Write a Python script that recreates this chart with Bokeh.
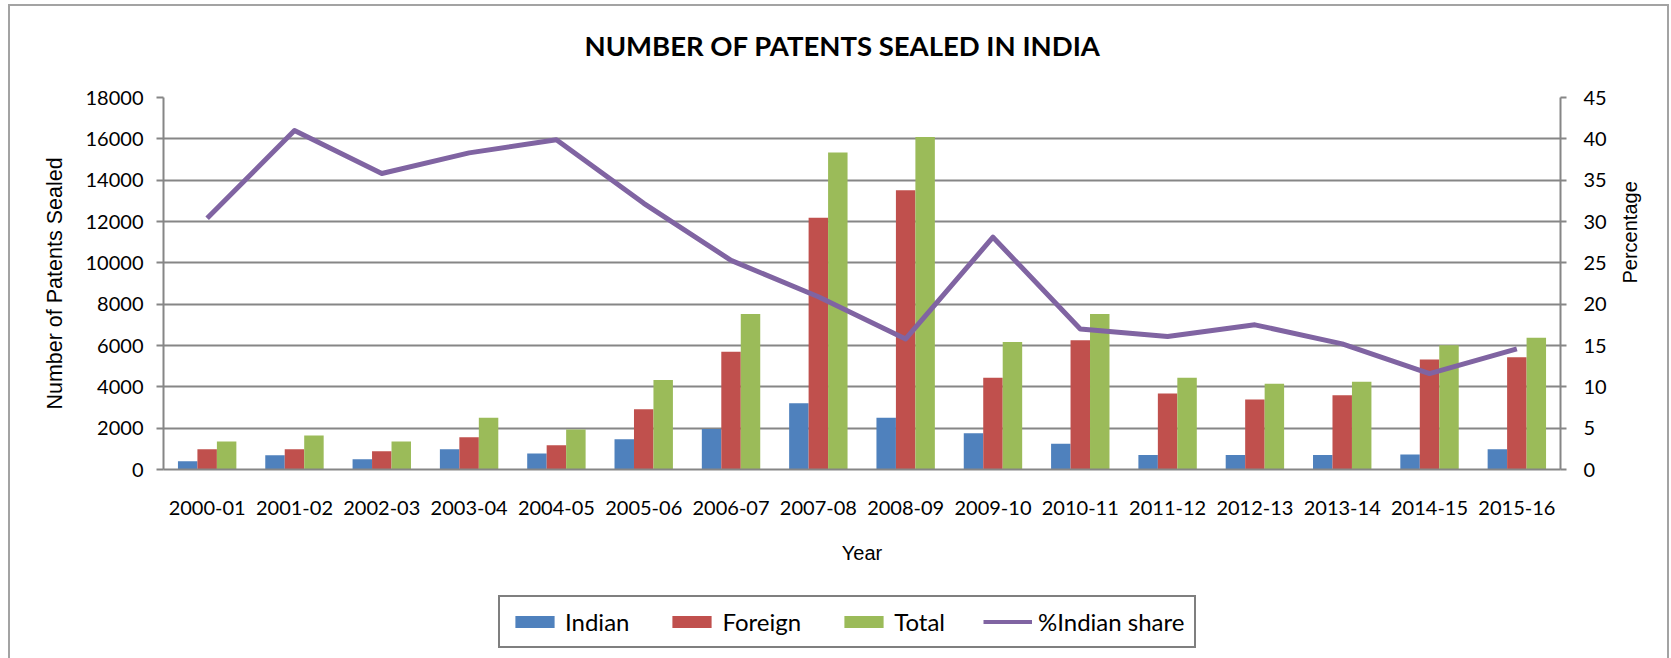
from bokeh.plotting import figure
from bokeh.models import (FactorRange, Range1d, LinearAxis, FixedTicker, Legend,
                          LegendItem, ColumnDataSource, Label)
from bokeh.layouts import column
from bokeh.transform import dodge
from bokeh.embed import file_html
from bokeh.resources import INLINE
import math

years = ["2000-01", "2001-02", "2002-03", "2003-04", "2004-05", "2005-06",
         "2006-07", "2007-08", "2008-09", "2009-10", "2010-11", "2011-12",
         "2012-13", "2013-14", "2014-15", "2015-16"]
indian = [400, 690, 490, 980, 780, 1460, 1960, 3200, 2510, 1750, 1250, 700,
          700, 700, 720, 980]
foreign = [980, 980, 880, 1560, 1170, 2910, 5700, 12180, 13510, 4440, 6260,
           3680, 3390, 3590, 5320, 5430]
total = [1350, 1650, 1350, 2510, 1940, 4330, 7520, 15340, 16090, 6170, 7520,
         4440, 4150, 4250, 6010, 6380]
pct_share = [30.4, 41.0, 35.8, 38.3, 39.9, 32.2, 25.3, 20.9, 15.8, 28.1, 17.0,
             16.1, 17.5, 15.2, 11.6, 14.6]
left_ticks = [0, 2000, 4000, 6000, 8000, 10000, 12000, 14000, 16000, 18000]
right_ticks = [0, 5, 10, 15, 20, 25, 30, 35, 40, 45]
series_names = ["Indian", "Foreign", "Total", "%Indian share"]
chart_title = "NUMBER OF PATENTS SEALED IN INDIA"

src = ColumnDataSource(dict(year=years, indian=indian, foreign=foreign,
                            total=total, pct=pct_share))

BLUE, RED, GREEN, PURPLE = "#4F81BD", "#C0504D", "#9BBB59", "#8064A2"
GRID = "#868686"
TICK_FONT = "Lato"
LABEL_FONT = "Liberation Sans"
W = 1657


def strip(height):
    f = figure(x_range=Range1d(0, 1397), y_range=Range1d(0, height),
               width=W, height=height,
               min_border_left=0, min_border_right=0,
               min_border_top=0, min_border_bottom=0,
               x_axis_location=None, y_axis_location=None,
               output_backend="svg", toolbar_location=None)
    f.xgrid.grid_line_color = None
    f.ygrid.grid_line_color = None
    f.outline_line_color = None
    f.background_fill_color = "white"
    f.border_fill_color = "white"
    return f


# ---- title strip ----
pt = strip(80)
pt.add_layout(Label(x=679, y=41, text=chart_title, text_align="center",
                    text_baseline="middle", text_font="Lato",
                    text_font_size="27.5px", text_font_style="bold",
                    text_color="#000000"))

# ---- main chart ----
p = figure(x_range=FactorRange(factors=years, range_padding=0),
           y_range=Range1d(0, 18000),
           width=W, height=493,
           min_border_left=153, min_border_right=107,
           min_border_top=11, min_border_bottom=110,
           output_backend="svg", toolbar_location=None)

p.extra_y_ranges = {"pct": Range1d(0, 45)}

bw = 0.223
p.vbar(x=dodge("year", -bw, range=p.x_range), top="indian", width=bw,
       source=src, fill_color=BLUE, line_color=None)
p.vbar(x=dodge("year", 0, range=p.x_range), top="foreign", width=bw,
       source=src, fill_color=RED, line_color=None)
p.vbar(x=dodge("year", bw, range=p.x_range), top="total", width=bw,
       source=src, fill_color=GREEN, line_color=None)
p.line(x="year", y="pct", y_range_name="pct", source=src,
       line_color=PURPLE, line_width=5, line_join="round")

# Left axis
ya = p.yaxis[0]
ya.ticker = FixedTicker(ticks=left_ticks)
ya.axis_label = "Number of Patents Sealed"
ya.axis_label_text_font = LABEL_FONT
ya.axis_label_text_font_size = "21.5px"
ya.axis_label_text_font_style = "normal"
ya.axis_label_text_color = "#000000"
ya.axis_label_standoff = 16
ya.major_label_text_font = TICK_FONT
ya.major_label_text_font_size = "20px"
ya.major_label_text_color = "#000000"
ya.major_label_standoff = 13
ya.major_tick_out = 7
ya.major_tick_in = 0
ya.minor_tick_out = 0
ya.minor_tick_in = 0
ya.axis_line_color = GRID
ya.axis_line_width = 2
ya.major_tick_line_color = GRID
ya.major_tick_line_width = 2

# Right axis
ra = LinearAxis(y_range_name="pct", ticker=FixedTicker(ticks=right_ticks),
                axis_label="Percentage")
ra.axis_label_orientation = math.pi / 2
ra.axis_label_text_font = LABEL_FONT
ra.axis_label_text_font_size = "20px"
ra.axis_label_text_font_style = "normal"
ra.axis_label_text_color = "#000000"
ra.axis_label_standoff = 20
ra.major_label_text_font = TICK_FONT
ra.major_label_text_font_size = "20px"
ra.major_label_text_color = "#000000"
ra.major_label_standoff = 17
ra.major_tick_out = 6
ra.major_tick_in = 0
ra.minor_tick_out = 0
ra.minor_tick_in = 0
ra.axis_line_color = GRID
ra.axis_line_width = 2
ra.major_tick_line_color = GRID
ra.major_tick_line_width = 2
p.add_layout(ra, "right")

# X axis
xa = p.xaxis[0]
xa.axis_label = "Year"
xa.axis_label_text_font = LABEL_FONT
xa.axis_label_text_font_size = "20px"
xa.axis_label_text_font_style = "normal"
xa.axis_label_text_color = "#000000"
xa.axis_label_standoff = 24
xa.major_label_text_font = TICK_FONT
xa.major_label_text_font_size = "20px"
xa.major_label_text_color = "#000000"
xa.major_label_standoff = 31
xa.major_tick_out = 0
xa.major_tick_in = 0
xa.axis_line_color = GRID
xa.axis_line_width = 2

p.xgrid.grid_line_color = None
p.ygrid.grid_line_color = GRID
p.ygrid.grid_line_width = 2
p.outline_line_color = None
p.background_fill_color = "white"
p.border_fill_color = "white"

# ---- legend strip ----
pl = strip(79)
# legend-key renderers: zero-height, placed below the visible range
key = ColumnDataSource(dict(x=[600, 700], y=[-20, -20]))
l1 = pl.vbar(x="x", top="y", bottom="y", width=1, source=key,
             fill_color=BLUE, line_color=None)
l2 = pl.vbar(x="x", top="y", bottom="y", width=1, source=key,
             fill_color=RED, line_color=None)
l3 = pl.vbar(x="x", top="y", bottom="y", width=1, source=key,
             fill_color=GREEN, line_color=None)
l4 = pl.line(x="x", y="y", source=key, line_color=PURPLE, line_width=4)

legend = Legend(items=[LegendItem(label=n, renderers=[r])
                       for n, r in zip(series_names, [l1, l2, l3, l4])],
                orientation="horizontal", location=(335, 10))
legend.label_text_font = "Lato"
legend.label_text_font_size = "24px"
legend.label_text_color = "#000000"
legend.glyph_width = 49
legend.glyph_height = 15
legend.label_standoff = 6
legend.spacing = 38
legend.padding = 10
legend.margin = 0
legend.border_line_color = "#000000"
legend.border_line_width = 2
legend.background_fill_color = "white"
legend.background_fill_alpha = 1
pl.add_layout(legend)

layout = column(pt, p, pl, spacing=0,
                styles={"margin": "4px 0px 0px 8px",
                        "border-left": "2px solid #a3a3a3",
                        "border-top": "2px solid #a3a3a3",
                        "border-right": "2px solid #a3a3a3"})

open("out.html", "w").write(file_html(layout, INLINE))
